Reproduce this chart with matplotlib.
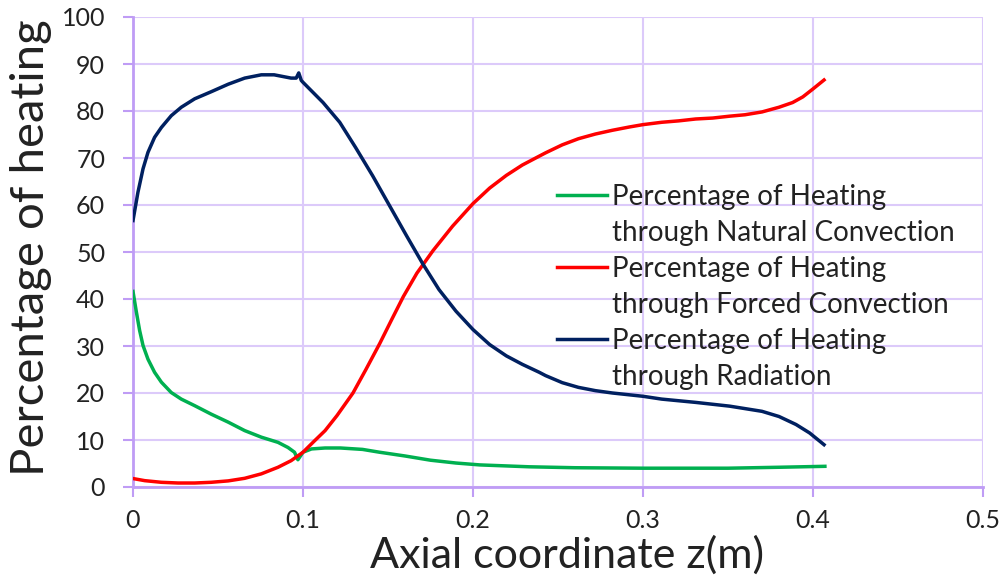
import matplotlib.pyplot as plt
from matplotlib.lines import Line2D

# axial position (m) and heating share (%) for each mechanism
z_natural = [0.0, 0.002, 0.0039, 0.0059, 0.0088, 0.0127, 0.0167, 0.0225, 0.0284, 0.0363,
             0.046, 0.056, 0.0657, 0.0755, 0.0853, 0.0912, 0.095, 0.097, 0.1, 0.105,
             0.113, 0.122, 0.135, 0.145, 0.16, 0.175, 0.19, 0.204, 0.233, 0.26,
             0.3, 0.35, 0.38, 0.407]
natural = [41.6, 37.2, 33.3, 30.1, 27.2, 24.4, 22.3, 20.1, 18.7, 17.3,
           15.5, 13.8, 12.0, 10.6, 9.5, 8.4, 7.4, 5.8, 7.4, 8.1,
           8.3, 8.3, 8.0, 7.4, 6.6, 5.7, 5.1, 4.7, 4.3, 4.1,
           4.0, 4.0, 4.2, 4.4]

z_forced = [0.0, 0.0069, 0.0167, 0.0265, 0.0363, 0.046, 0.056, 0.0657, 0.0755, 0.0853,
            0.093, 0.1, 0.107, 0.113, 0.12, 0.1294, 0.137, 0.1451, 0.152, 0.159,
            0.167, 0.1765, 0.188, 0.2, 0.2098, 0.2196, 0.229, 0.239, 0.2427, 0.2525,
            0.262, 0.272, 0.282, 0.292, 0.3, 0.311, 0.321, 0.331, 0.341, 0.351,
            0.36, 0.37, 0.38, 0.388, 0.394, 0.4, 0.4065]
forced = [1.8, 1.35, 1.0, 0.85, 0.85, 1.0, 1.3, 1.85, 2.8, 4.2,
          5.6, 7.4, 9.9, 12.0, 15.2, 20.0, 25.0, 30.5, 35.5, 40.5,
          45.5, 50.3, 55.5, 60.3, 63.6, 66.3, 68.5, 70.4, 71.1, 72.8,
          74.1, 75.1, 75.9, 76.6, 77.1, 77.6, 77.9, 78.3, 78.5, 78.9,
          79.2, 79.8, 80.8, 81.8, 83.0, 84.7, 86.6]

z_radiation = [0.0, 0.0029, 0.0059, 0.0088, 0.0127, 0.0167, 0.0225, 0.0284, 0.0363, 0.046,
               0.056, 0.0657, 0.0755, 0.083, 0.093, 0.096, 0.0975, 0.099, 0.1, 0.1118,
               0.1216, 0.131, 0.141, 0.151, 0.161, 0.1706, 0.18, 0.19, 0.2, 0.2098,
               0.2196, 0.229, 0.239, 0.2427, 0.2525, 0.262, 0.272, 0.282, 0.3, 0.311,
               0.331, 0.351, 0.37, 0.38, 0.39, 0.398, 0.4065]
radiation = [56.7, 62.7, 67.7, 71.2, 74.4, 76.5, 79.0, 80.8, 82.6, 84.1,
             85.7, 87.0, 87.7, 87.7, 87.0, 87.0, 88.1, 86.5, 86.1, 81.8,
             77.6, 72.2, 66.2, 59.8, 53.4, 47.4, 42.0, 37.4, 33.5, 30.3,
             27.9, 26.1, 24.4, 23.7, 22.2, 21.2, 20.5, 20.0, 19.3, 18.7,
             18.0, 17.2, 16.1, 15.0, 13.3, 11.5, 9.0]

labels = [("Percentage of Heating", "through Natural Convection"),
          ("Percentage of Heating", "through Forced Convection"),
          ("Percentage of Heating", "through Radiation")]
colors = ['#00b050', '#ff0000', '#002060']
x_ticks = [0, 0.1, 0.2, 0.3, 0.4, 0.5]
x_tick_labels = ['0', '0.1', '0.2', '0.3', '0.4', '0.5']
y_ticks = list(range(0, 101, 10))

plt.rcParams['font.family'] = ['Lato', 'DejaVu Sans']
grid_col = '#dccafa'
axis_col = '#bf9cf5'
text_col = '#222222'

W, H = 1005, 582
fig = plt.figure(figsize=(W / 100, H / 100), dpi=100)
ax = fig.add_axes([133 / W, 1 - 487 / H, 850 / W, 470 / H])

series = [(z_natural, natural), (z_forced, forced), (z_radiation, radiation)]
for (zz, vals), c in zip(series, colors):
    ax.plot(zz, vals, color=c, lw=2.5, zorder=3, solid_joinstyle='round')

ax.set_xlim(0, 0.5)
ax.set_ylim(0, 100)
ax.set_xticks(x_ticks)
ax.set_xticklabels(x_tick_labels)
ax.set_yticks(y_ticks)
ax.grid(True, color=grid_col, lw=1.5, zorder=0)
ax.set_axisbelow(True)

for side in ['top', 'right']:
    ax.spines[side].set_visible(False)
for side in ['left', 'bottom']:
    ax.spines[side].set_color(axis_col)
    ax.spines[side].set_linewidth(2)
ax.tick_params(axis='both', direction='out', length=7, width=1.5, color=axis_col,
               labelsize=18, labelcolor=text_col)
ax.tick_params(axis='x', pad=9)
ax.tick_params(axis='y', pad=13)

ax.set_xlabel('Axial coordinate z(m)', fontsize=31, color=text_col)
ax.xaxis.set_label_coords((567 - 133) / 850, (487 - 555) / 470)
ax.xaxis.label.set_va('center')
ax.set_ylabel('Percentage of heating', fontsize=34, color=text_col)
ax.yaxis.set_label_coords((31 - 133) / 850, (487 - 248) / 470)
ax.yaxis.label.set_va('center')

# legend: handle sits level with the first line of each two-line label
for i, ((top, bottom), c) in enumerate(zip(labels, colors)):
    base = 205 + 72 * i
    y_line = 1 - (base - 10) / H
    fig.add_artist(Line2D([557 / W, 607 / W], [y_line, y_line], color=c, lw=2.5,
                          transform=fig.transFigure))
    fig.text(612 / W, 1 - base / H, top, fontsize=20, color=text_col, va='baseline')
    fig.text(612 / W, 1 - (base + 36) / H, bottom, fontsize=20, color=text_col, va='baseline')

fig.savefig('out.png', dpi=100)
